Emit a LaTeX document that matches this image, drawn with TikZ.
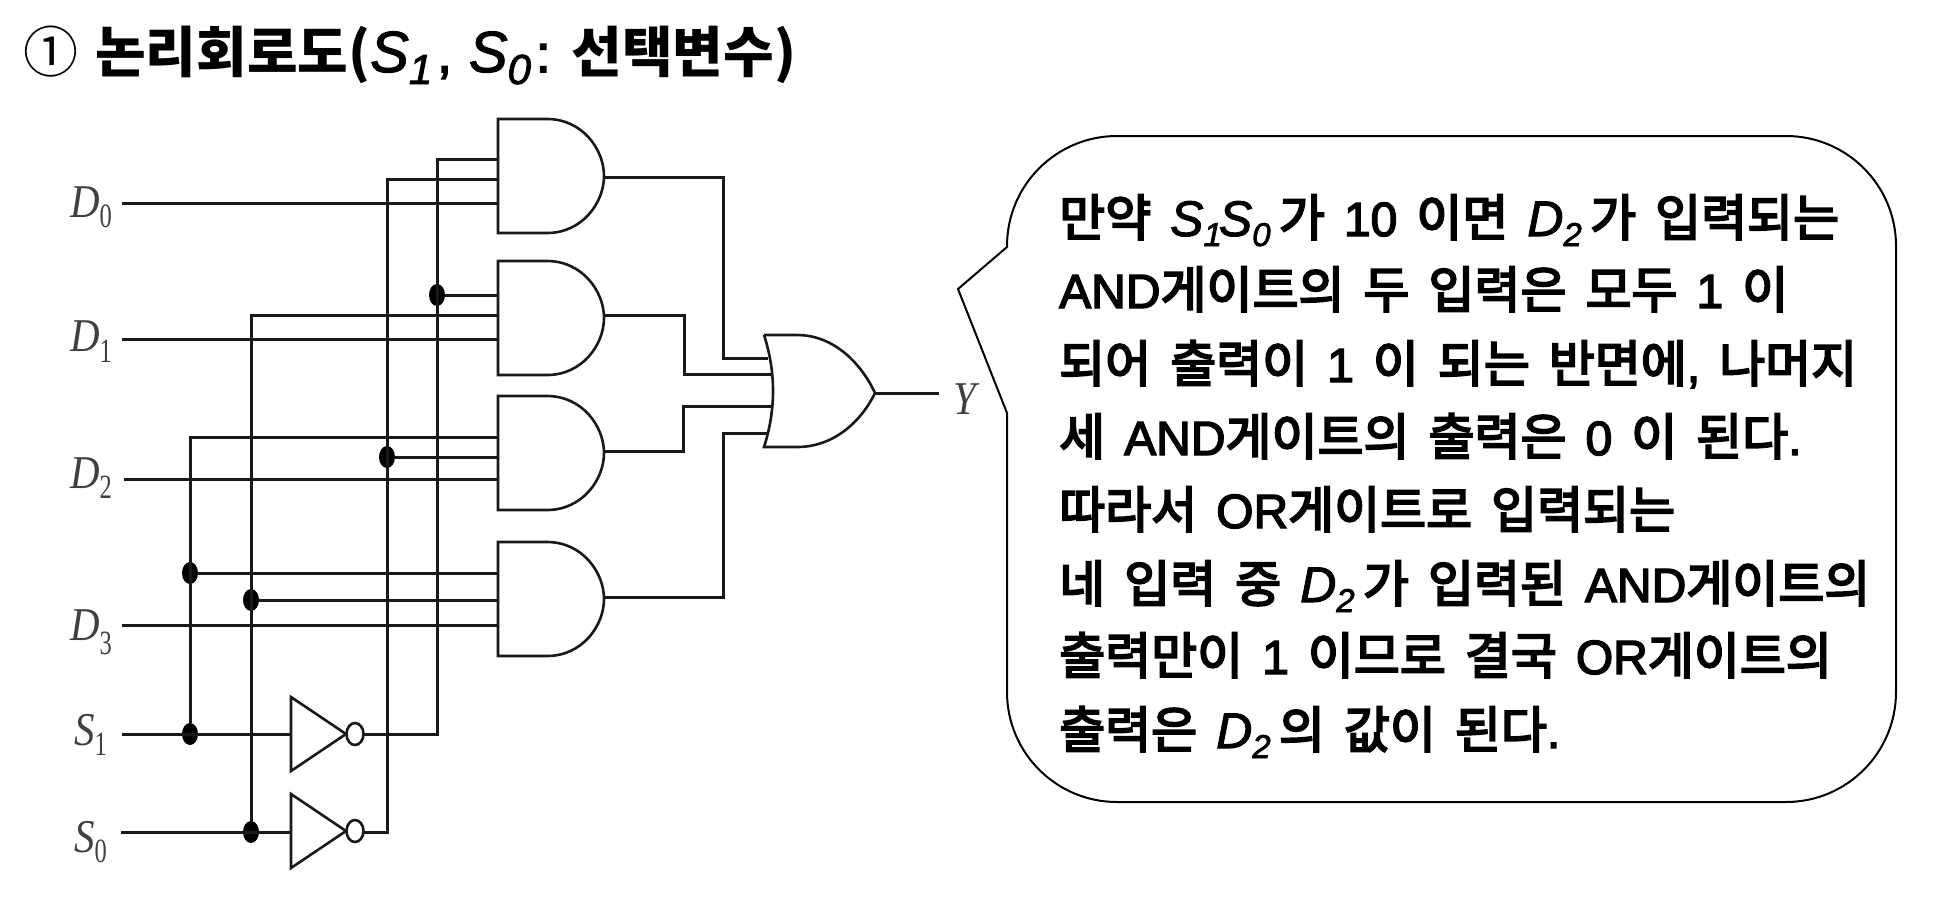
\documentclass[tikz,border=0pt]{standalone}
\usepackage{fontspec}
\usetikzlibrary{shapes.geometric}
\setmainfont[FakeBold=4]{Noto Sans CJK KR}
\newfontfamily\krthin{Noto Sans CJK KR}
\newfontfamily\latf[FakeBold=3,Scale=0.96]{Liberation Sans}
\newfontfamily\lati[ItalicFont={Liberation Sans Italic},FakeBold=2]{Liberation Sans}
\newfontfamily\serf[FakeStretch=0.87]{Liberation Serif}
\newfontfamily\sers[FakeStretch=0.72]{Liberation Serif}

\newcommand{\la}[1]{{\latf #1}}
% width of a word space
\newcommand{\wsp}[1]{\spaceskip #1\relax}
% italic letter with lowered index in the text
\newcommand{\sv}[2]{{\lati\itshape\fontsize{50}{50}\selectfont #1\raisebox{-10pt}{\fontsize{33}{33}\selectfont #2}}}
% the same in the title
\newcommand{\tsv}[2]{{\lati\itshape\fontsize{58}{58}\selectfont #1\raisebox{-12pt}{\fontsize{42}{42}\selectfont #2}}}
% letter and index of the circuit labels
\newcommand{\cl}[3]{{\serf\itshape #1\raisebox{#3}{\sers\upshape\fontsize{34}{34}\selectfont #2}}}

\tikzset{
  wire/.style={line width=3pt,black!90},
  gateline/.style={line width=2.6pt,black!90,fill=white},
  dot/.style={ellipse,fill=black,inner sep=0pt,minimum width=16pt,minimum height=22pt},
  lbl/.style={inner sep=0pt,anchor=base west,black!75,font=\fontsize{47}{50}\selectfont},
  txt/.style={inner sep=0pt,anchor=base west,font=\fontsize{50}{52}\selectfont\wsp{19pt}},
  andgate/.pic={
    \draw[gateline] (0,0) -- (49,0) .. controls (84,0) and (106,30) .. (106,57)
      .. controls (106,84) and (84,114) .. (49,114) -- (0,114) -- cycle;
  },
  notgate/.pic={
    \draw[gateline] (0,-37) -- (55,0) -- (0,37) -- cycle;
    \draw[gateline] (64,0) ellipse (8.5 and 11);
  }
}

\begin{document}
\begin{tikzpicture}[x=1pt,y=-1pt]
\useasboundingbox (0,0) rectangle (1936,900);

% title
\node[txt,font=\fontsize{55}{58}\selectfont\wsp{17pt}] (title) at (23,72)
  {{\krthin ①} {\krthin\bfseries 논리회로도(}\tsv{S}{1}\hspace{5pt}\la{,}\hspace{17pt}\tsv{S}{0}\hspace{5pt}\la{:} {\krthin\bfseries 선택변수)}};

% inputs
\node[lbl] (D0) at (70,217) {\cl{D}{0}{-10pt}};
\node[lbl] (D1) at (70,351) {\cl{D}{1}{-11pt}};
\node[lbl] (D2) at (70,488) {\cl{D}{2}{-10pt}};
\node[lbl] (D3) at (70,640) {\cl{D}{3}{-14pt}};
\node[lbl] (S1) at (74,745) {\cl{S}{1}{-10pt}};
\node[lbl] (S0) at (74,852) {\cl{S}{0}{-10pt}};

\coordinate (d0) at (122,203);
\coordinate (d1) at (122,339);
\coordinate (d2) at (124,479);
\coordinate (d3) at (122,625);
\coordinate (s1) at (122,734);
\coordinate (s0) at (121,832);

% gates
\pic at (498,119) {andgate};
\pic at (498,261) {andgate};
\pic at (498,396) {andgate};
\pic at (498,542) {andgate};
\pic at (291,734) {notgate};
\pic at (291,831) {notgate};

% gate inputs
\coordinate (a0i1) at (498,159);
\coordinate (a0i2) at (498,179);
\coordinate (a0i3) at (498,203);
\coordinate (a1i1) at (498,295);
\coordinate (a1i2) at (498,315);
\coordinate (a1i3) at (498,339);
\coordinate (a2i1) at (498,437);
\coordinate (a2i2) at (498,457);
\coordinate (a2i3) at (498,479);
\coordinate (a3i1) at (498,573);
\coordinate (a3i2) at (498,600);
\coordinate (a3i3) at (498,625);
\coordinate (n1i) at (291,734);
\coordinate (n0i) at (291,832);
\coordinate (n1o) at (363,734);
\coordinate (n0o) at (363,832);

% gate outputs
\coordinate (a0o) at (604,177);
\coordinate (a1o) at (604,315);
\coordinate (a2o) at (604,451);
\coordinate (a3o) at (604,597);

% or gate
\draw[gateline] (764,335) -- (797,335) .. controls (835,335) and (862,365) .. (875,393)
  .. controls (862,420) and (835,447) .. (797,447) -- (764,447)
  .. controls (776,410) and (776,372) .. (764,335);
\coordinate (o0) at (768,358);
\coordinate (o1) at (771,374);
\coordinate (o2) at (771,406);
\coordinate (o3) at (767,433);
\coordinate (b0) at (723,358);
\coordinate (b1) at (684,374);
\coordinate (b2) at (683,406);
\coordinate (b3) at (723,433);
\coordinate (oo) at (875,393);
\coordinate (yy) at (939,393);
\node[lbl] (Y) at (953,414) {\cl{Y}{}{0pt}};

% junctions
\coordinate (v1) at (190,437);
\coordinate (v2) at (251,315);
\coordinate (v3) at (387,179);
\coordinate (v4) at (437,159);
\coordinate (v3b) at (387,832);
\coordinate (v4b) at (437,734);
\node[dot] (j1) at (437,295) {};
\node[dot] (j2) at (387,457) {};
\node[dot] (j3) at (190,573) {};
\node[dot] (j4) at (251,600) {};
\node[dot] (j5) at (190,734) {};
\node[dot] (j6) at (251,832) {};

% wires
\draw[wire] (d0) -- (a0i3);
\draw[wire] (d1) -- (a1i3);
\draw[wire] (d2) -- (a2i3);
\draw[wire] (d3) -- (a3i3);
\draw[wire] (s1) -- (n1i);
\draw[wire] (s0) -- (n0i);

\draw[wire] (j5) -- (v1) -- (a2i1);
\draw[wire] (j6) -- (v2) -- (a1i2);
\draw[wire] (n0o) -- (v3b) -- (v3) -- (a0i2);
\draw[wire] (n1o) -- (v4b) -- (v4) -- (a0i1);
\draw[wire] (j1) -- (a1i1);
\draw[wire] (j2) -- (a2i2);
\draw[wire] (j3) -- (a3i1);
\draw[wire] (j4) -- (a3i2);

\draw[wire] (a0o) -| (b0) -- (o0);
\draw[wire] (a1o) -| (b1) -- (o1);
\draw[wire] (a2o) -| (b2) -- (o2);
\draw[wire] (a3o) -| (b3) -- (o3);
\draw[wire] (oo) -- (yy);

% speech balloon
\draw[line width=2pt,rounded corners=110pt] (1007,247) -- (1007,136) -- (1896,136) -- (1896,802) -- (1007,802)
  [sharp corners] -- (1007,413) -- (958,289) -- cycle;

% balloon text
\node[txt] (l1) at (1059,236) {만약 \sv{S}{1}\hspace{-3pt}\sv{S}{0}\,가 \la{10} 이면 \sv{D}{2}\,가 입력되는};
\node[txt] (l2) at (1059,308) {\la{AND}게이트의 두 입력은 모두 \la{1} 이};
\node[txt] (l3) at (1059,382) {되어 출력이 \la{1} 이 되는 반면에\la{,} 나머지};
\node[txt] (l4) at (1059,455) {세 \la{AND}게이트의 출력은 \la{0} 이 된다\la{.}};
\node[txt] (l5) at (1059,528) {따라서 \la{OR}게이트로 입력되는};
\node[txt] (l6) at (1059,602) {네 입력 중 \sv{D}{2}\,가 입력된 \la{AND}게이트의};
\node[txt] (l7) at (1059,674) {출력만이 \la{1} 이므로 결국 \la{OR}게이트의};
\node[txt] (l8) at (1059,748) {출력은 \sv{D}{2}\,의 값이 된다\la{.}};

\end{tikzpicture}
\end{document}
